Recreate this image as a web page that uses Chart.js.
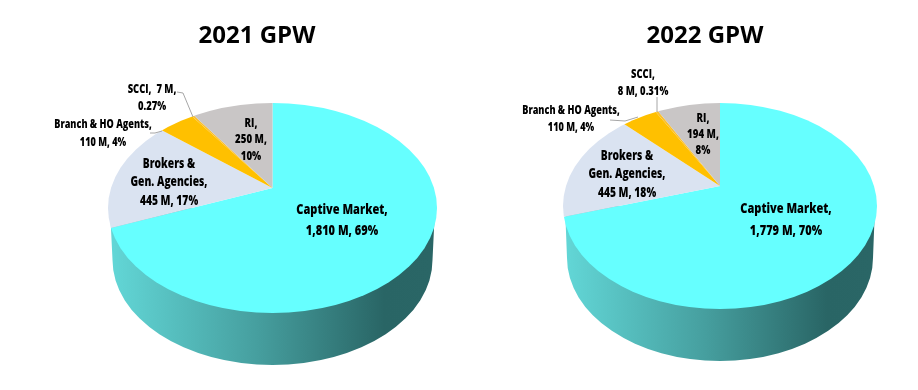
<!DOCTYPE html>
<html>
<head>
<meta charset="utf-8">
<style>
  html, body { margin: 0; padding: 0; background: #fff; overflow: hidden; }
  body { width: 918px; height: 390px; position: relative; }
  canvas { position: absolute; top: 0; }
</style>
<script src="https://cdn.jsdelivr.net/npm/chart.js@4"></script>
</head>
<body>
<div style="position:absolute;left:47px;top:0;width:420px;height:390px"><canvas id="pie2021"></canvas></div>
<div style="position:absolute;left:495px;top:0;width:420px;height:390px"><canvas id="pie2022"></canvas></div>
<script>
const categories = ["Captive Market", "Brokers & Gen. Agencies", "Branch & HO Agents", "SCCI", "RI"];
const values2021 = [1810, 445, 110, 7, 250];
const values2022 = [1779, 445, 110, 8, 194];
const sliceColors = ["#66ffff", "#dae3f1", "#ffc000", "#fbc02d", "#c9c6c6"];

// label lines, one array per pie, same order as categories
const labels2021 = [
    ["Captive Market,", "1,810 M, 69%"],
    ["Brokers &", "Gen. Agencies,", "445 M, 17%"],
    ["Branch & HO Agents,", "110 M, 4%"],
    ["SCCI,  7 M,", "0.27%"],
    ["RI,", "250 M,", "10%"]
];
const labels2022 = [
    ["Captive Market,", "1,779 M, 70%"],
    ["Brokers &", "Gen. Agencies,", "445 M, 18%"],
    ["Branch & HO Agents,", "110 M, 4%"],
    ["SCCI,", "8 M, 0.31%"],
    ["RI,", "194 M,", "8%"]
];

// page-pixel placement of the squashed pie and its labels
const layout2021 = {
    apex: [272.5, 188], rim: [272.5, 208, 164.5, 105], wall: [272.5, 260, 160, 105],
    labelAt: [[342, 210], [169, 164], [103, 125], [152, 89], [251, 123]],
    lineStep: [21, 18.5, 18, 17, 16.5],
    leaders: [[[177, 92], [183, 93], [193, 117]], [[150, 133], [155, 133], [162, 131]]]
};
const layout2022 = {
    apex: [720, 186], rim: [720, 206, 157, 103], wall: [720, 258, 153, 103],
    labelAt: [[786, 209], [627, 156], [571, 111], [643, 74], [703, 118]],
    lineStep: [22, 18.5, 17, 17, 16],
    leaders: [[[657, 97], [657, 112]], [[610, 120], [625, 121], [638, 117]]]
};

const squash = 0.63;
const labelSizes = [14.5, 13.5, 12, 12.4, 12.7];
const labelNarrow = 0.76;

// draws the side wall, then squashes the arcs and clips them to the rim ellipse
const pie3d = {
    id: 'pie3d',
    beforeDatasetsDraw(chart, args, opts) {
        const ctx = chart.ctx;
        const dx = chart.canvas.parentNode.offsetLeft;
        const l = opts.layout;
        const arc = chart.getDatasetMeta(0).data[0];

        ctx.save();
        ctx.translate(-dx, 0);
        const [wx, wy, wrx, wry] = l.wall;
        const [rx0, ry0, rrx, rry] = l.rim;
        const grad = ctx.createLinearGradient(wx - wrx, 0, wx + wrx, 0);
        grad.addColorStop(0, "#62d6d6");
        grad.addColorStop(0.45, "#469f9f");
        grad.addColorStop(0.85, "#296565");
        grad.addColorStop(1, "#2a6666");
        ctx.fillStyle = grad;
        ctx.beginPath();
        ctx.moveTo(rx0 - rrx + 2, ry0);
        ctx.lineTo(wx - wrx, wy);
        ctx.ellipse(wx, wy, wrx, wry, 0, Math.PI, 0, true);
        ctx.lineTo(rx0 + rrx - 2, ry0);
        ctx.closePath();
        ctx.fill();
        ctx.restore();

        ctx.save();
        ctx.translate(-dx, 0);
        ctx.beginPath();
        ctx.ellipse(rx0, ry0, rrx, rry, 0, 0, Math.PI * 2);
        ctx.clip();
        ctx.translate(l.apex[0], l.apex[1]);
        ctx.scale(1, squash);
        ctx.translate(-arc.x, -arc.y);
    },
    afterDatasetsDraw(chart) {
        chart.ctx.restore();
    },
    afterDraw(chart, args, opts) {
        const ctx = chart.ctx;
        const dx = chart.canvas.parentNode.offsetLeft;
        const l = opts.layout;
        ctx.save();
        ctx.translate(-dx, 0);

        ctx.strokeStyle = "#a6a6a6";
        ctx.lineWidth = 1;
        l.leaders.forEach(pts => {
            ctx.beginPath();
            pts.forEach((p, i) => i ? ctx.lineTo(p[0], p[1]) : ctx.moveTo(p[0], p[1]));
            ctx.stroke();
        });

        ctx.fillStyle = "#000";
        ctx.textAlign = "center";
        ctx.textBaseline = "middle";
        opts.lines.forEach((lines, i) => {
            const [x, y] = l.labelAt[i];
            ctx.font = '800 ' + labelSizes[i] + 'px "Open Sans"';
            lines.forEach((text, j) => {
                ctx.save();
                ctx.translate(x, y + j * l.lineStep[i]);
                ctx.scale(labelNarrow, 1);
                ctx.fillText(text, 0, 0);
                ctx.restore();
            });
        });
        ctx.restore();
    }
};

function makePie(id, year, values, lines, layout) {
    const canvas = document.getElementById(id);
    canvas.width = 420;
    canvas.height = 390;
    new Chart(canvas.getContext("2d"), {
        type: 'pie',
        data: {
            labels: categories,
            datasets: [{
                data: values,
                backgroundColor: sliceColors,
                borderWidth: 0
            }]
        },
        options: {
            responsive: false,
            animation: false,
            radius: 320,
            plugins: {
                legend: { display: false },
                tooltip: { enabled: false },
                title: {
                    display: true,
                    text: year + " GPW",
                    color: "#000",
                    font: { family: '"Open Sans"', size: 24, weight: 'bold' },
                    padding: { top: 22, bottom: 0 }
                },
                pie3d: { layout: layout, lines: lines }
            }
        },
        plugins: [pie3d]
    });
}

makePie("pie2021", "2021", values2021, labels2021, layout2021);
makePie("pie2022", "2022", values2022, labels2022, layout2022);
</script>
</body>
</html>
